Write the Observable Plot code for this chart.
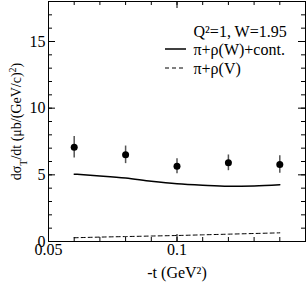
<!DOCTYPE html>
<html><head><meta charset="utf-8">
<script src="https://cdn.jsdelivr.net/npm/d3@7"></script>
<script src="https://cdn.jsdelivr.net/npm/@observablehq/plot@0.6"></script>
<style>
html,body{margin:0;padding:0;background:#fff;}
svg, svg text { font-family: "Liberation Serif", "Times New Roman", serif !important; }
</style>
</head><body><div id="chart"></div>
<script>
const tVals = [0.06, 0.08, 0.10, 0.12, 0.14];
const dataY = [7.07, 6.5, 5.65, 5.9, 5.78];
const dataErr = [0.8, 0.66, 0.56, 0.59, 0.66];
const curveT = [0.06, 0.07, 0.08, 0.09, 0.10, 0.11, 0.12, 0.13, 0.14];
const solidY = [5.05, 4.92, 4.76, 4.52, 4.33, 4.22, 4.15, 4.17, 4.25];
const dashedY = [0.28, 0.33, 0.37, 0.41, 0.45, 0.5, 0.55, 0.6, 0.65];
const xTickLabels = [0.05, 0.1];
const yTickLabels = [0, 5, 10, 15];
const xMajor = [0.05, 0.1, 0.15];
const xMinor = d3.range(0.05, 0.1501, 0.01).map(v => +v.toFixed(2));
const yMajor = [0, 5, 10, 15];
const yMinor = d3.range(0, 19, 1);
const legendTitle = "Q²=1, W=1.95";
const legendLabels = ["π+ρ(W)+cont.", "π+ρ(V)"];

const points = tVals.map((t, i) => ({t, y: dataY[i], e: dataErr[i]}));
const solid = curveT.map((t, i) => ({t, y: solidY[i]}));
const dashed = curveT.map((t, i) => ({t, y: dashedY[i]}));

const W = 307, H = 282, mL = 48, mR = 2, mT = 1, mB = 41;
const iw = W - mL - mR, ih = H - mT - mB;
const MAJ = 7, MIN = 4;
const font = '"Liberation Serif", "Times New Roman", serif';
const legDy = [48, 67];

const chart = Plot.plot({
  width: W, height: H,
  marginLeft: mL, marginRight: mR, marginTop: mT, marginBottom: mB,
  style: {fontFamily: font, fontSize: "16px", color: "black", background: "white"},
  x: {type: "linear", domain: [0.05, 0.15]},
  y: {domain: [0, 18]},
  marks: [
    Plot.tickX(xMajor, {x: d => d, insetTop: ih - MAJ, stroke: "black", strokeWidth: 1}),
    Plot.tickX(xMinor, {x: d => d, insetTop: ih - MIN, stroke: "black", strokeWidth: 1}),
    Plot.tickX(xMajor, {x: d => d, insetBottom: ih - MAJ, stroke: "black", strokeWidth: 1}),
    Plot.tickX(xMinor, {x: d => d, insetBottom: ih - MIN, stroke: "black", strokeWidth: 1}),
    Plot.tickY(yMajor, {y: d => d, insetRight: iw - MAJ, stroke: "black", strokeWidth: 1}),
    Plot.tickY(yMinor, {y: d => d, insetRight: iw - MIN, stroke: "black", strokeWidth: 1}),
    Plot.tickY(yMajor, {y: d => d, insetLeft: iw - MAJ, stroke: "black", strokeWidth: 1}),
    Plot.tickY(yMinor, {y: d => d, insetLeft: iw - MIN, stroke: "black", strokeWidth: 1}),
    Plot.axisX({ticks: xTickLabels, tickSize: 0, tickPadding: 2, tickFormat: d => String(d), fontSize: 16,
      label: null}),
    Plot.axisY({ticks: yTickLabels, tickSize: 0, tickPadding: 3, tickFormat: d => String(d), fontSize: 16,
      label: null}),
    Plot.text(["-t (GeV²)"], {frameAnchor: "bottom", dy: 31, dx: 0, fontSize: 16, lineAnchor: "middle"}),
    Plot.text(["dσT/dt (μb/(GeV/c)²)"], {frameAnchor: "left", dx: -32, dy: 0, rotate: -90, fontSize: 14,
      textAnchor: "middle", lineAnchor: "middle", className: "ylab"}),
    Plot.line(solid, {x: "t", y: "y", stroke: "black", strokeWidth: 1.5, curve: "monotone-x"}),
    Plot.line(dashed, {x: "t", y: "y", stroke: "black", strokeWidth: 1, strokeDasharray: "4,3", curve: "monotone-x"}),
    Plot.ruleX(points, {x: "t", y1: d => d.y - d.e, y2: d => d.y + d.e, stroke: "#555", strokeWidth: 1.5}),
    Plot.dot(points, {x: "t", y: "y", r: 3.5, fill: "black", stroke: "none"}),
    Plot.text([legendTitle], {frameAnchor: "top-left", dx: 145, dy: 30, textAnchor: "start", fontSize: 16, lineAnchor: "middle"}),
    Plot.text([legendLabels[0]], {frameAnchor: "top-left", dx: 145, dy: legDy[0], textAnchor: "start", fontSize: 16, lineAnchor: "middle"}),
    Plot.text([legendLabels[1]], {frameAnchor: "top-left", dx: 145, dy: legDy[1], textAnchor: "start", fontSize: 16, lineAnchor: "middle"}),
    Plot.frame({stroke: "black", strokeWidth: 1})
  ]
});
document.getElementById("chart").appendChild(chart);

const svg = d3.select(chart);
const g = svg.append("g");
legDy.forEach((dy, i) => {
  const y = mT + dy;
  g.append("line").attr("x1", 165).attr("x2", 186).attr("y1", y).attr("y2", y)
    .attr("stroke", "black").attr("stroke-width", i === 0 ? 1.5 : 1)
    .attr("stroke-dasharray", i === 0 ? null : "4,3");
});
svg.selectAll(".ylab text").each(function() {
  const t = d3.select(this);
  t.text(null);
  t.append("tspan").text("dσ");
  t.append("tspan").attr("baseline-shift", "sub").attr("font-size", "10px").text("T");
  t.append("tspan").text("/dt (μb/(GeV/c)");
  t.append("tspan").attr("baseline-shift", "super").attr("font-size", "10px").text("2");
  t.append("tspan").text(")");
});
</script>
</body></html>
